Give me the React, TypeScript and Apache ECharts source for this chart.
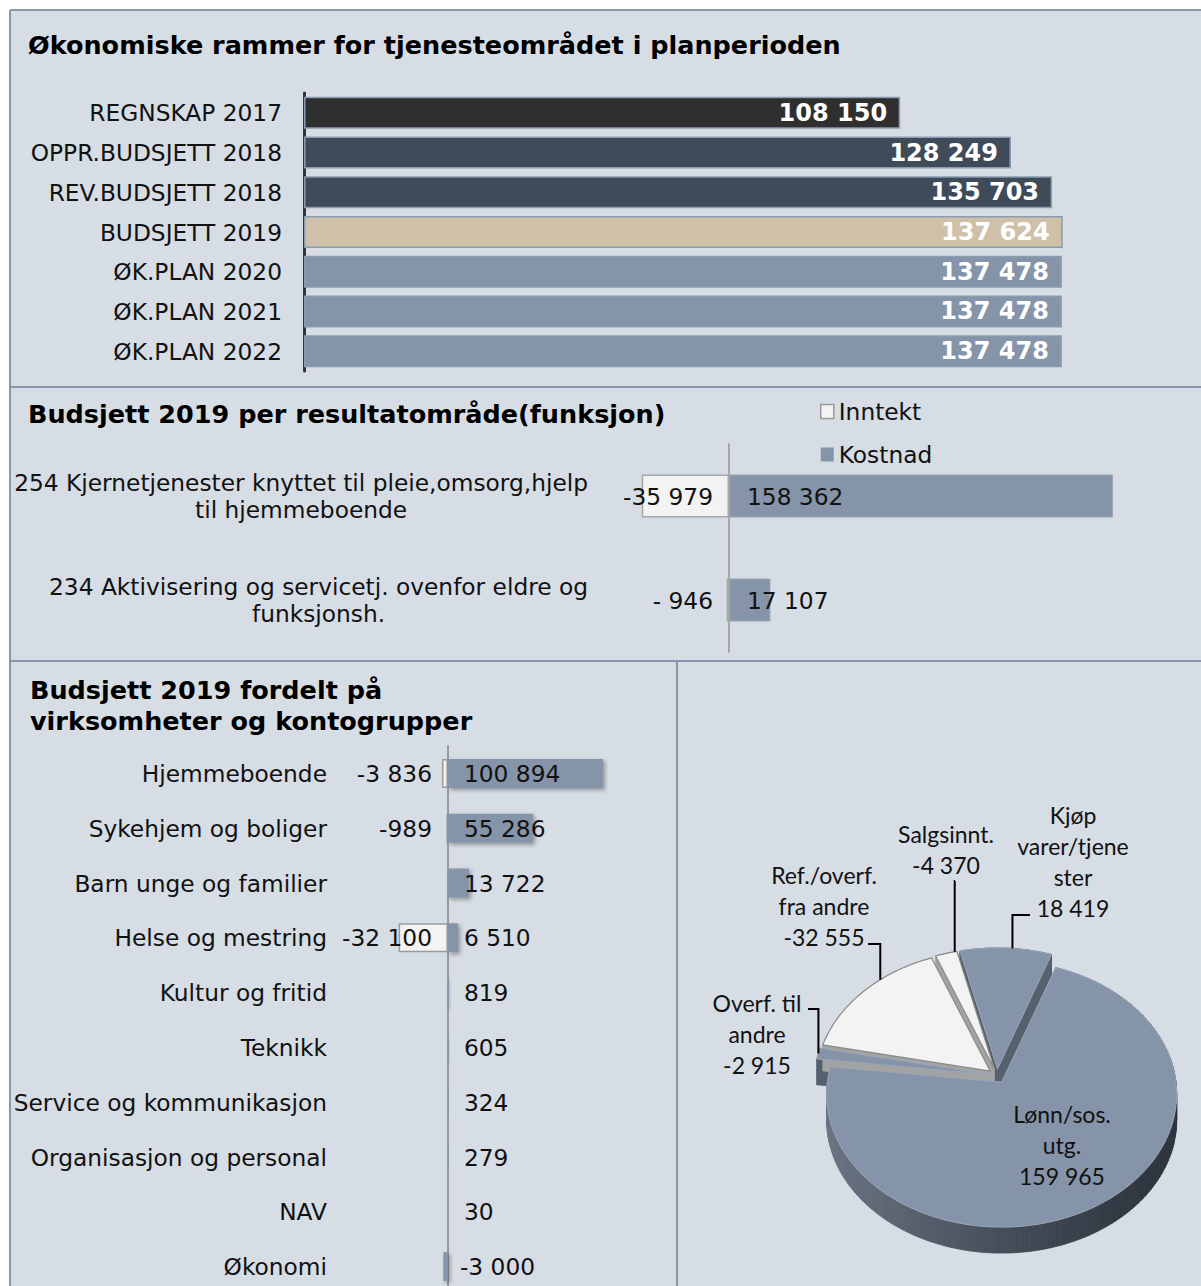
import React, { useEffect, useRef } from "react";
import * as echarts from "echarts";

// ---------- DATA ----------
const frameCategories = [
  "REGNSKAP 2017",
  "OPPR.BUDSJETT 2018",
  "REV.BUDSJETT 2018",
  "BUDSJETT 2019",
  "ØK.PLAN 2020",
  "ØK.PLAN 2021",
  "ØK.PLAN 2022",
];
const frameValues = [108150, 128249, 135703, 137624, 137478, 137478, 137478];

const funcCategories = [
  "254 Kjernetjenester knyttet til pleie,omsorg,hjelp\ntil hjemmeboende",
  "234 Aktivisering og servicetj. ovenfor eldre og\nfunksjonsh.",
];
const funcInntekt = [-35979, -946];
const funcKostnad = [158362, 17107];

const unitCategories = [
  "Hjemmeboende",
  "Sykehjem og boliger",
  "Barn unge og familier",
  "Helse og mestring",
  "Kultur og fritid",
  "Teknikk",
  "Service og kommunikasjon",
  "Organisasjon og personal",
  "NAV",
  "Økonomi",
];
const unitInntekt = [-3836, -989, null, -32100, null, null, null, null, null, null];
const unitKostnad = [100894, 55286, 13722, 6510, 819, 605, 324, 279, 30, -3000];

const pieNames = [
  "Kjøp varer/tjenester",
  "Lønn/sos. utg.",
  "Overf. til andre",
  "Ref./overf. fra andre",
  "Salgsinnt.",
];
const pieLabelText = [
  "Kjøp\nvarer/tjene\nster",
  "Lønn/sos.\nutg.",
  "Overf. til\nandre",
  "Ref./overf.\nfra andre",
  "Salgsinnt.",
];
const pieValues = [18419, 159965, -2915, -32555, -4370];
const pieKind = ["Kostnad", "Kostnad", "Kostnad", "Inntekt", "Inntekt"];

// ---------- STYLE / LAYOUT ----------
const FONT = "'DejaVu Sans', Verdana, sans-serif";
const PIEFONT = "Lato, 'Open Sans', sans-serif";
const BG = "#d6dde5";
const BORDER = "#8798ae";
const frameColors = ["#2f2f2f", "#404b59", "#404b59", "#cfc0aa", "#8594a8", "#8594a8", "#8594a8"];
const BLUE = "#8594a8";
const WHITE = "#f3f3f3";
const LABEL_SIZE = 23.3;
const TITLE_SIZE = 25.5;

// grid geometry (value axis zero positions at x=729 and x=448)
const G1 = { left: 486.5, width: 679, zeroX: 729 };
const G2 = { left: 355.8, width: 276.5, zeroX: 448 };

const PIE = { cx: 997, cy: 1088, rx: 175, ry: 133, depth: 26, explode: 0.053, apexLift: 12, start: 102.4 };
const pieLabelAt = [
  [1073, 861],
  [1062, 1145],
  [757, 1034],
  [824, 906],
  [946, 849],
];
// leader line: start near the label, and where along the slice's arc it ends (0 = start edge, 1 = end edge)
const pieLeaderFrom: (number[] | null)[] = [[1030, 915], null, [808, 1009], [868, 944], [955, 881]];
const pieLeaderArcPos = [0.57, 0.5, 0.5, 0.64, 0.9];

function fmt(v: number): string {
  const s = Math.round(Math.abs(v))
    .toString()
    .replace(/\B(?=(\d{3})+(?!\d))/g, " ");
  return (v < 0 ? "-" : "") + s;
}
// Excel "# ##0" style: small negatives keep the group space
function fmtPad(v: number): string {
  if (v < 0 && Math.abs(v) < 1000) return "- " + Math.abs(v);
  return fmt(v);
}

function lerpColor(a: string, b: string, t: number): string {
  const pa = [1, 3, 5].map((i) => parseInt(a.slice(i, i + 2), 16));
  const pb = [1, 3, 5].map((i) => parseInt(b.slice(i, i + 2), 16));
  const c = pa.map((v, i) => Math.round(v + (pb[i] - v) * t));
  return "rgb(" + c.join(",") + ")";
}

const pieTotal = pieValues.reduce((s, v) => s + Math.abs(v), 0);
const pieAngles = (() => {
  let a = PIE.start;
  return pieValues.map((v) => {
    const span = (Math.abs(v) / pieTotal) * 360;
    const r = [a, a - span];
    a -= span;
    return r;
  });
})();

function renderPie(params: any) {
  const i = params.dataIndex;
  const [a0, a1] = pieAngles[i];
  const mid = ((a0 + a1) / 2) * (Math.PI / 180);
  const ox = PIE.explode * PIE.rx * Math.cos(mid);
  const oy = -PIE.explode * PIE.ry * Math.sin(mid);
  const arc = (deg: number) => {
    const t = (deg * Math.PI) / 180;
    return [PIE.cx + ox + PIE.rx * Math.cos(t), PIE.cy + oy - PIE.ry * Math.sin(t)];
  };
  const apex = [PIE.cx + ox, PIE.cy + oy - PIE.apexLift];
  const d = PIE.depth;
  const isBlue = pieKind[i] === "Kostnad";
  const steps = Math.max(2, Math.ceil((a0 - a1) / 1.5));
  const pts: number[][] = [];
  for (let k = 0; k <= steps; k++) pts.push(arc(a0 - ((a0 - a1) * k) / steps));

  const children: any[] = [];
  // outer side band
  for (let k = 0; k < steps; k++) {
    const p = pts[k];
    const q = pts[k + 1];
    const th = ((a0 - ((a0 - a1) * (k + 0.5)) / steps) * Math.PI) / 180;
    const t = Math.pow((1 - Math.cos(th)) / 2, 1.3);
    const col = isBlue ? lerpColor("#2e343d", "#6a7483", t) : lerpColor("#8c8c8c", "#cfcfcf", t);
    children.push({
      type: "polygon",
      z2: 1,
      shape: { points: [p, q, [q[0], q[1] + d], [p[0], p[1] + d]] },
      style: { fill: col, stroke: col, lineWidth: 0.8 },
    });
  }
  // radial walls
  [pts[0], pts[pts.length - 1]].forEach((e) => {
    const wc = isBlue ? "#56616f" : "#a3a3a3";
    children.push({
      type: "polygon",
      z2: 2,
      shape: { points: [apex, e, [e[0], e[1] + d], [apex[0], apex[1] + d]] },
      style: { fill: wc, stroke: wc, lineWidth: 0.5 },
    });
  });
  // top face
  children.push({
    type: "polygon",
    z2: 10,
    shape: { points: [apex, ...pts] },
    style: isBlue
      ? { fill: BLUE, stroke: "#9aa7b8", lineWidth: 1 }
      : { fill: WHITE, stroke: "#8a8a8a", lineWidth: 1.2 },
  });
  // label
  const la = pieLabelAt[i];
  children.push({
    type: "text",
    z2: 30,
    style: {
      text: pieLabelText[i] + "\n" + fmt(pieValues[i]),
      x: la[0],
      y: la[1],
      fill: "#111",
      font: "23px " + PIEFONT,
      fontSize: 23,
      fontFamily: PIEFONT,
      align: "center",
      textAlign: "center",
      verticalAlign: "middle",
      textVerticalAlign: "middle",
      lineHeight: 31,
    },
  });
  const lf = pieLeaderFrom[i];
  if (lf) {
    const end = arc(a0 - (a0 - a1) * pieLeaderArcPos[i]);
    children.push({
      type: "polyline",
      z2: 31,
      shape: { points: [lf, [end[0], lf[1]], end] },
      style: { stroke: "#000", lineWidth: 2, fill: null },
    });
  }
  return { type: "group", children };
}

function buildOption(): any {
  const labelStyle = { fontFamily: FONT, fontSize: LABEL_SIZE, color: "#111" };
  const titleStyle = { fontFamily: FONT, fontWeight: "bold", fontSize: TITLE_SIZE, color: "#000" };
  return {
    animation: false,
    backgroundColor: BG,
    title: [
      {
        text: "Økonomiske rammer for tjenesteområdet i planperioden",
        left: 28,
        top: 32,
        padding: 0,
        textStyle: titleStyle,
      },
      {
        text: "Budsjett 2019 per resultatområde(funksjon)",
        left: 28,
        top: 401,
        padding: 0,
        textStyle: titleStyle,
      },
      {
        text: "Budsjett 2019 fordelt på\nvirksomheter og kontogrupper",
        left: 30,
        top: 674,
        padding: 0,
        textStyle: { ...titleStyle, lineHeight: 31 },
      },
    ],
    legend: {
      orient: "vertical",
      left: 820,
      top: 400,
      padding: 0,
      itemWidth: 13,
      itemHeight: 14,
      itemGap: 20,
      selectedMode: false,
      textStyle: { fontFamily: FONT, fontSize: LABEL_SIZE, color: "#111", lineHeight: 23 },
      data: [
        { name: "Inntekt", icon: "rect", itemStyle: { color: WHITE, borderColor: "#9a9a9a", borderWidth: 1.5, shadowBlur: 0, shadowOffsetX: 0, shadowOffsetY: 0 } },
        { name: "Kostnad", icon: "rect", itemStyle: { color: BLUE, borderWidth: 0, shadowBlur: 0, shadowOffsetX: 0, shadowOffsetY: 0 } },
      ],
    },
    grid: [
      { left: 304, top: 93, width: 882, height: 278, outerBoundsMode: "none", containLabel: false },
      { left: G1.left, top: 444, width: G1.width, height: 208, outerBoundsMode: "none", containLabel: false },
      { left: G2.left, top: 746, width: G2.width, height: 548, outerBoundsMode: "none", containLabel: false },
    ],
    xAxis: [
      { type: "value", gridIndex: 0, min: 0, max: 160000, show: false },
      { type: "value", gridIndex: 1, min: -100000, max: 180000, show: false },
      { type: "value", gridIndex: 2, min: -60000, max: 120000, show: false },
    ],
    yAxis: [
      {
        type: "category",
        gridIndex: 0,
        inverse: true,
        data: frameCategories,
        axisLine: { show: true, lineStyle: { color: "#333", width: 3 } },
        axisTick: { show: false },
        axisLabel: { ...labelStyle, margin: 22 },
      },
      {
        type: "category",
        gridIndex: 1,
        inverse: true,
        data: funcCategories,
        offset: -(G1.zeroX - G1.left),
        axisLine: { show: true, onZero: false, lineStyle: { color: "#a6a6a6", width: 2 } },
        axisTick: { show: false },
        axisLabel: {
          ...labelStyle,
          margin: 141,
          formatter: (v: string) => v.split("\n").map((l) => "{c|" + l + "}").join("\n"),
          rich: { c: { align: "center", fontFamily: FONT, fontSize: LABEL_SIZE, color: "#111", lineHeight: 27 } },
        },
      },
      {
        type: "category",
        gridIndex: 2,
        inverse: true,
        data: unitCategories,
        offset: -(G2.zeroX - G2.left),
        axisLine: { show: true, onZero: false, lineStyle: { color: "#9a9a9a", width: 2 } },
        axisTick: { show: false },
        axisLabel: { ...labelStyle, margin: 121 },
      },
    ],
    series: [
      {
        name: "Ramme",
        type: "bar",
        xAxisIndex: 0,
        yAxisIndex: 0,
        barWidth: 32,
        data: frameValues.map((v, i) => ({ value: v, itemStyle: { color: frameColors[i] } })),
        itemStyle: { borderColor: "#8b9bb0", borderWidth: 1.5 },
        label: {
          show: true,
          position: "insideRight",
          distance: 13,
          color: "#fff",
          fontFamily: FONT,
          fontWeight: "bold",
          fontSize: 24,
          formatter: (p: any) => fmt(p.value),
        },
      },
      {
        name: "Inntekt",
        type: "bar",
        xAxisIndex: 1,
        yAxisIndex: 1,
        barWidth: 43,
        barGap: "-100%",
        data: funcInntekt,
        itemStyle: { color: WHITE, borderColor: "#a6a6a6", borderWidth: 1.5 },
        label: {
          show: true,
          position: "insideRight",
          distance: 16,
          ...labelStyle,
          formatter: (p: any) => fmtPad(p.value),
        },
      },
      {
        name: "Kostnad",
        type: "bar",
        xAxisIndex: 1,
        yAxisIndex: 1,
        barWidth: 43,
        barGap: "-100%",
        data: funcKostnad,
        itemStyle: { color: BLUE, borderColor: "#9aa7b8", borderWidth: 1 },
        label: {
          show: true,
          position: "insideLeft",
          distance: 18,
          ...labelStyle,
          formatter: (p: any) => fmtPad(p.value),
        },
      },
      {
        name: "Inntekt",
        type: "bar",
        xAxisIndex: 2,
        yAxisIndex: 2,
        barWidth: 29,
        barGap: "-100%",
        data: unitInntekt,
        itemStyle: { color: WHITE, borderColor: "#9a9a9a", borderWidth: 1.5 },
        label: {
          show: true,
          position: "insideRight",
          distance: 16,
          ...labelStyle,
          formatter: (p: any) => (p.value == null ? "" : fmt(p.value)),
        },
      },
      {
        name: "Kostnad",
        type: "bar",
        xAxisIndex: 2,
        yAxisIndex: 2,
        barWidth: 29,
        barGap: "-100%",
        data: unitKostnad.map((v) =>
          v < 0 ? { value: v, label: { position: "right", distance: 12 } } : { value: v }
        ),
        itemStyle: {
          color: BLUE,
          shadowColor: "rgba(0,0,0,0.35)",
          shadowBlur: 4,
          shadowOffsetX: 2,
          shadowOffsetY: 2,
        },
        label: {
          show: true,
          position: "insideLeft",
          distance: 16,
          ...labelStyle,
          formatter: (p: any) => fmt(p.value),
        },
      },
      {
        name: "Fordeling",
        type: "custom",
        coordinateSystem: "none",
        data: pieValues.map((v, i) => ({ name: pieNames[i], value: Math.abs(v) })),
        renderItem: renderPie,
        silent: true,
      },
    ],
    graphic: [
      { type: "rect", shape: { x: 0, y: 0, width: 1201, height: 10 }, style: { fill: "#fff" } },
      { type: "rect", shape: { x: 0, y: 0, width: 10, height: 1286 }, style: { fill: "#fff" } },
      { type: "line", shape: { x1: 10, y1: 10, x2: 1201, y2: 10 }, style: { stroke: BORDER, lineWidth: 2 } },
      { type: "line", shape: { x1: 10, y1: 10, x2: 10, y2: 1286 }, style: { stroke: BORDER, lineWidth: 2 } },
      { type: "line", shape: { x1: 10, y1: 387, x2: 1201, y2: 387 }, style: { stroke: BORDER, lineWidth: 2 } },
      { type: "line", shape: { x1: 10, y1: 661, x2: 1201, y2: 661 }, style: { stroke: BORDER, lineWidth: 2 } },
      { type: "line", shape: { x1: 677, y1: 661, x2: 677, y2: 1286 }, style: { stroke: BORDER, lineWidth: 2 } },
    ],
  };
}

export default function App() {
  const ref = useRef<HTMLDivElement>(null);
  useEffect(() => {
    if (!ref.current) return;
    const chart = echarts.init(ref.current, null, { renderer: "svg", width: 1201, height: 1286 });
    chart.setOption(buildOption());
    return () => chart.dispose();
  }, []);
  return (
    <div
      ref={ref}
      style={{ position: "absolute", left: 0, top: 0, width: 1201, height: 1286 }}
    />
  );
}
